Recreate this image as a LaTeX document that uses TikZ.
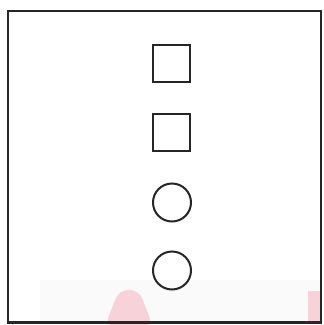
\documentclass[tikz,border=0pt]{standalone}
\begin{document}
\begin{tikzpicture}[x=1pt,y=-1pt,
  shapebox/.style={draw=black!85,line width=2pt,minimum size=37pt,inner sep=0pt},
  shapecirc/.style={circle,draw=black!85,line width=2pt,minimum size=38pt,inner sep=0pt},
  frame/.style={draw=black!85,line width=2.4pt}]
\definecolor{wmpink}{HTML}{F7D3D9}
\useasboundingbox (0,0) rectangle (324,325);
% faint watermark
\fill[black!2] (40,280) rectangle (321,322);
\fill[wmpink,rounded corners=9pt] (105,326) -- (119,290) -- (139,290) -- (153,326) -- cycle;
\fill[wmpink] (308,291) rectangle (321,322);
% frame
\node[frame,minimum width=313pt,minimum height=311.5pt,inner sep=0pt] (fr) at (164.5,166.75) {};
% shapes
\node[shapebox] (s1) at (172,63) {};
\node[shapebox] (s2) at (172,132) {};
\node[shapecirc] (c1) at (172,202.5) {};
\node[shapecirc] (c2) at (172,270.5) {};
\end{tikzpicture}
\end{document}
